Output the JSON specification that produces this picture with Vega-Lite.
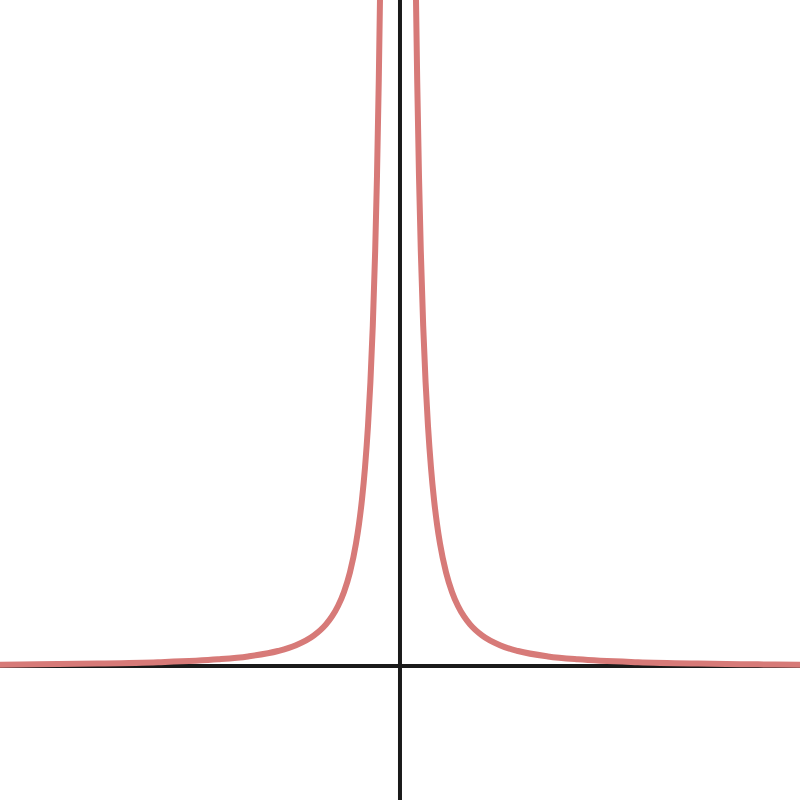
{
  "$schema": "https://vega.github.io/schema/vega-lite/v6.json",
  "width": 800,
  "height": 800,
  "autosize": {"type": "none"},
  "padding": 0,
  "background": "white",
  "config": {"view": {"stroke": null}},
  "layer": [
    {
      "data": {"values": [{"y": 0}]},
      "mark": {"type": "rule", "color": "#1a1a1a", "strokeWidth": 4},
      "encoding": {"y": {"field": "y", "type": "quantitative", "scale": {"domain": [-2.233, 11.1], "nice": false, "zero": false}, "axis": null}}
    },
    {
      "data": {"values": [{"x": 0.0333}]},
      "mark": {"type": "rule", "color": "#1a1a1a", "strokeWidth": 4},
      "encoding": {"x": {"field": "x", "type": "quantitative", "scale": {"domain": [-6.633, 6.7], "nice": false, "zero": false}, "axis": null}}
    },
    {
      "data": {"values": [
        {"b": "L", "x": -6.7, "y": 0.0223},
        {"b": "L", "x": -6.0, "y": 0.0278},
        {"b": "L", "x": -5.0, "y": 0.04},
        {"b": "L", "x": -4.0, "y": 0.0625},
        {"b": "L", "x": -3.0, "y": 0.111},
        {"b": "L", "x": -2.5, "y": 0.16},
        {"b": "L", "x": -2.0, "y": 0.25},
        {"b": "L", "x": -1.7, "y": 0.346},
        {"b": "L", "x": -1.4, "y": 0.510},
        {"b": "L", "x": -1.2, "y": 0.694},
        {"b": "L", "x": -1.1, "y": 0.826},
        {"b": "L", "x": -1.0, "y": 1.0},
        {"b": "L", "x": -0.9, "y": 1.235},
        {"b": "L", "x": -0.8, "y": 1.5625},
        {"b": "L", "x": -0.7, "y": 2.041},
        {"b": "L", "x": -0.65, "y": 2.367},
        {"b": "L", "x": -0.6, "y": 2.778},
        {"b": "L", "x": -0.55, "y": 3.306},
        {"b": "L", "x": -0.5, "y": 4.0},
        {"b": "L", "x": -0.46, "y": 4.726},
        {"b": "L", "x": -0.42, "y": 5.669},
        {"b": "L", "x": -0.38, "y": 6.925},
        {"b": "L", "x": -0.35, "y": 8.163},
        {"b": "L", "x": -0.32, "y": 9.766},
        {"b": "L", "x": -0.3, "y": 11.111},
        {"b": "L", "x": -0.28, "y": 12.755},
        {"b": "R", "x": 0.28, "y": 12.755},
        {"b": "R", "x": 0.3, "y": 11.111},
        {"b": "R", "x": 0.32, "y": 9.766},
        {"b": "R", "x": 0.35, "y": 8.163},
        {"b": "R", "x": 0.38, "y": 6.925},
        {"b": "R", "x": 0.42, "y": 5.669},
        {"b": "R", "x": 0.46, "y": 4.726},
        {"b": "R", "x": 0.5, "y": 4.0},
        {"b": "R", "x": 0.55, "y": 3.306},
        {"b": "R", "x": 0.6, "y": 2.778},
        {"b": "R", "x": 0.65, "y": 2.367},
        {"b": "R", "x": 0.7, "y": 2.041},
        {"b": "R", "x": 0.8, "y": 1.5625},
        {"b": "R", "x": 0.9, "y": 1.235},
        {"b": "R", "x": 1.0, "y": 1.0},
        {"b": "R", "x": 1.1, "y": 0.826},
        {"b": "R", "x": 1.2, "y": 0.694},
        {"b": "R", "x": 1.4, "y": 0.510},
        {"b": "R", "x": 1.7, "y": 0.346},
        {"b": "R", "x": 2.0, "y": 0.25},
        {"b": "R", "x": 2.5, "y": 0.16},
        {"b": "R", "x": 3.0, "y": 0.111},
        {"b": "R", "x": 4.0, "y": 0.0625},
        {"b": "R", "x": 5.0, "y": 0.04},
        {"b": "R", "x": 6.0, "y": 0.0278},
        {"b": "R", "x": 6.7, "y": 0.0223}
      ]},
      "mark": {"type": "line", "color": "#d77a78", "strokeWidth": 6, "interpolate": "monotone", "clip": true, "strokeCap": "round"},
      "encoding": {
        "x": {"field": "x", "type": "quantitative", "sort": null, "scale": {"domain": [-6.633, 6.7], "nice": false, "zero": false}, "axis": null},
        "y": {"field": "y", "type": "quantitative", "scale": {"domain": [-2.233, 11.1], "nice": false, "zero": false}, "axis": null},
        "detail": {"field": "b", "type": "nominal"},
        "order": {"field": "x", "type": "quantitative"}
      }
    }
  ]
}
